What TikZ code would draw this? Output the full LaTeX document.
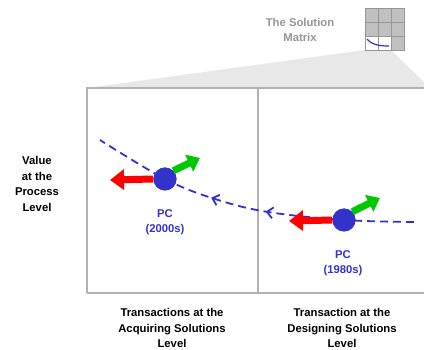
\documentclass[tikz,border=0pt]{standalone}
\usepackage{fontspec}
\setmainfont{Liberation Sans}[BoldFont={Liberation Sans Bold}]
\usepackage{tikz}
\usetikzlibrary{arrows.meta, decorations.markings}

\definecolor{pcblue}{RGB}{51,51,204}
\definecolor{framegray}{RGB}{178,178,178}
\definecolor{shadegray}{RGB}{232,232,232}
\definecolor{cellgray}{RGB}{192,192,192}
\definecolor{gridgray}{RGB}{150,150,150}
\definecolor{upgreen}{RGB}{0,200,0}

\begin{document}
\begin{tikzpicture}
    [x=1pt, y=-1pt,
    caption/.style={align=center, font=\bfseries\fontsize{11.3}{15.5}\selectfont},
    pccaption/.style={caption, text=pcblue},
    pc/.style={circle, fill=pcblue, minimum size=23pt, inner sep=0pt},
    pushleft/.style={red, line width=7pt, -{Triangle[length=14pt, width=20pt]}},
    pushup/.style={upgreen, line width=7pt, -{Triangle[length=12pt, width=18pt]}},
    trend/.style={pcblue, line width=1.8pt, dash pattern=on 8pt off 5pt,
      decoration={markings,
        mark=at position 0.45 with {\arrow[solid]{Straight Barb[length=6pt, width=11pt]}},
        mark=at position 0.62 with {\arrow[solid]{Straight Barb[length=6pt, width=11pt]}}},
      postaction={decorate}},
    frame/.style={framegray, line width=2.2pt}]
    \useasboundingbox (0,0) rectangle (424,350);

    % zoom shade from the matrix down to the frame
    \fill [shadegray] (87,88) -- (365,50) -- (391,50) -- (430,88) -- cycle;

    % the solution matrix
    \foreach \col in {0,1,2}
      \foreach \row in {0,1,2}
        \filldraw [fill=cellgray, draw=gridgray, line width=0.9pt] (365+13*\col, 8+14*\row) rectangle ++(13,14);
    \filldraw [fill=white, draw=gridgray, line width=0.9pt] (365,36) rectangle (391,50);
    \draw [gridgray, line width=0.9pt] (378,36) -- (378,50);
    \draw [pcblue, line width=1.2pt] (367,39) .. controls (372,45) and (380,46) .. (389,46);
    \node [caption, text=gridgray] (matrix) at (300,30) {The Solution\\Matrix};

    % frame
    \draw [frame] (87,293) -- (87,88) -- (430,88);
    \draw [frame] (87,293) -- (430,293);
    \draw [frame] (258,88) -- (258,293);

    % positions
    \node [pc] (pcnew) at (165,179) {};
    \node [pc] (pcold) at (344,220) {};
    \coordinate (trendstart) at (414,222);
    \coordinate (trendend) at (100,140);

    \draw [trend] plot [smooth, tension=0.6] coordinates
      {(trendstart) (pcold.center) (268,212) (215,199) (pcnew.center) (trendend)};

    \node [pc] at (pcnew) {};
    \node [pc] at (pcold) {};

    \coordinate (newleft) at (110,180);
    \coordinate (newup) at (200,158);
    \coordinate (oldleft) at (289,221);
    \coordinate (oldup) at (380,198);
    \draw [pushleft] (pcnew.west) -- (newleft);
    \draw [pushup] (pcnew.north east) -- (newup);
    \draw [pushleft] (pcold.west) -- (oldleft);
    \draw [pushup] (pcold.north east) -- (oldup);

    \node [pccaption] (newlabel) at (165,222) {PC\\(2000s)};
    \node [pccaption] (oldlabel) at (343,263) {PC\\(1980s)};

    % axis texts
    \node [caption] (value) at (37,184) {Value\\at the\\Process\\Level};
    \node [caption] (acquire) at (172,328) {Transactions at the\\Acquiring Solutions\\Level};
    \node [caption] (design) at (342,328) {Transaction at the\\Designing Solutions\\Level};
  \end{tikzpicture}
\end{document}
